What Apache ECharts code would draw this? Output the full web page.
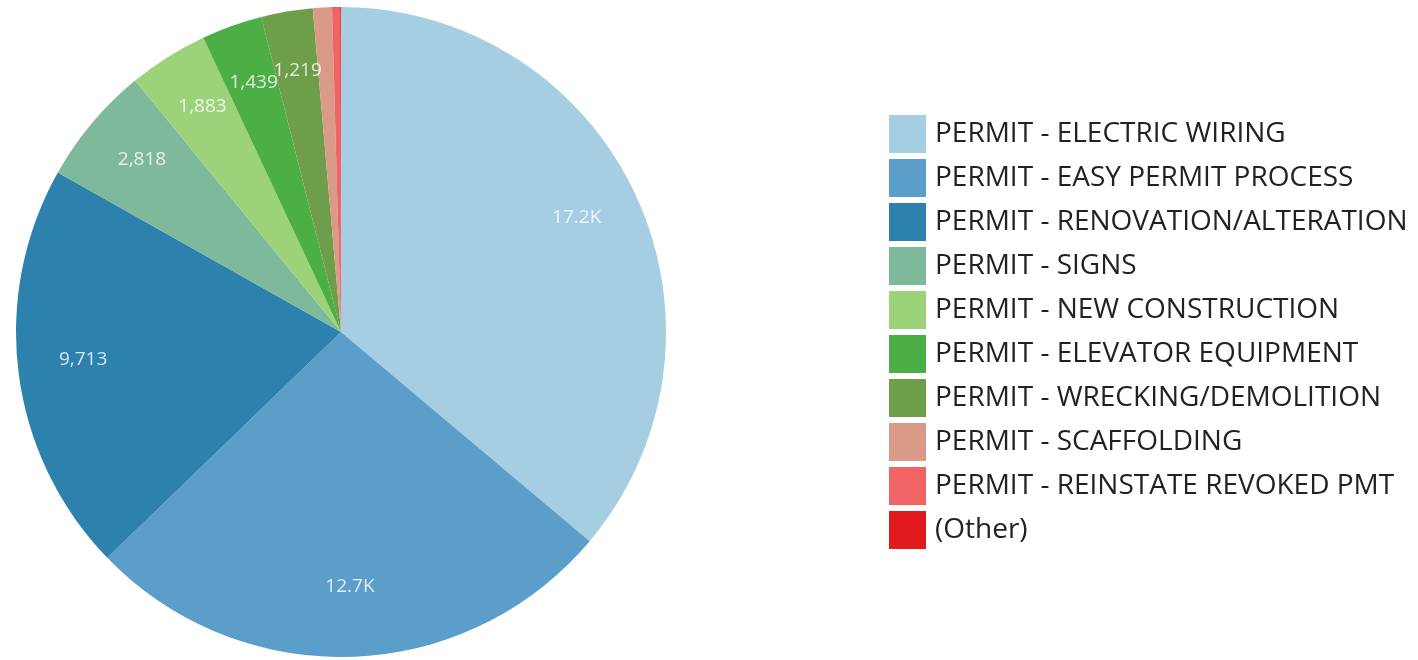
<!DOCTYPE html>
<html><head><meta charset="utf-8">
<script src="https://cdn.jsdelivr.net/npm/echarts@6/dist/echarts.min.js"></script>
<style>html,body{margin:0;padding:0;background:#fff}#c{width:1418px;height:660px}</style>
</head><body><div id="c"></div>
<script>
const categories = ["PERMIT - ELECTRIC WIRING","PERMIT - EASY PERMIT PROCESS","PERMIT - RENOVATION/ALTERATION","PERMIT - SIGNS","PERMIT - NEW CONSTRUCTION","PERMIT - ELEVATOR EQUIPMENT","PERMIT - WRECKING/DEMOLITION","PERMIT - SCAFFOLDING","PERMIT - REINSTATE REVOKED PMT","(Other)"];
const values = [17210, 12690, 9713, 2818, 1883, 1439, 1219, 450, 190, 20];
const colors = ["#a6cee3","#5b9ec9","#2d81ad","#7db99a","#9bd27a","#4caf46","#6e9e4a","#da9a88","#f06466","#e31a1c"];

function fmt(v){
  if (v >= 10000) return (v/1000).toFixed(1) + 'K';
  return v.toLocaleString('en-US');
}
const total = values.reduce((a,b)=>a+b,0);
const data = categories.map((n,i)=>({name:n, value:values[i], itemStyle:{color:colors[i]}}));
// label anchors: mid-angle of each slice (in value units) at 80% of the radius
let cum = 0;
const labelPts = [];
values.forEach((v,i)=>{
  const mid = cum + v/2; cum += v;
  if (v >= 1000) labelPts.push({value:[0.8, mid], raw:v});
});

const chart = echarts.init(document.getElementById('c'), null, {renderer:'canvas'});
chart.setOption({
  animation:false,
  polar:{center:[341,332], radius:325},
  angleAxis:{type:'value', min:0, max:total, startAngle:90, clockwise:true,
    axisLine:{show:false}, axisTick:{show:false}, axisLabel:{show:false}, splitLine:{show:false}},
  radiusAxis:{type:'value', min:0, max:1,
    axisLine:{show:false}, axisTick:{show:false}, axisLabel:{show:false}, splitLine:{show:false}},
  legend:{
    orient:'vertical', left:884, top:110,
    itemWidth:37, itemHeight:38, itemGap:6, itemStyle:{borderWidth:0},
    icon:'rect',
    textStyle:{fontFamily:'Open Sans', fontSize:28, color:'#222', padding:[0,0,0,4]},
    data: categories
  },
  series:[
    {type:'pie', center:[341,332], radius:[0,325], startAngle:90, clockwise:true,
     label:{show:false}, labelLine:{show:false}, data:data, silent:true},
    {type:'scatter', coordinateSystem:'polar', symbolSize:0, silent:true, z:10,
     label:{show:true, position:'inside', offset:[0,-5], color:'#fff', fontFamily:'Open Sans', fontSize:19,
       formatter:p=>fmt(p.data.raw)},
     data:labelPts}
  ]
});
</script></body></html>
